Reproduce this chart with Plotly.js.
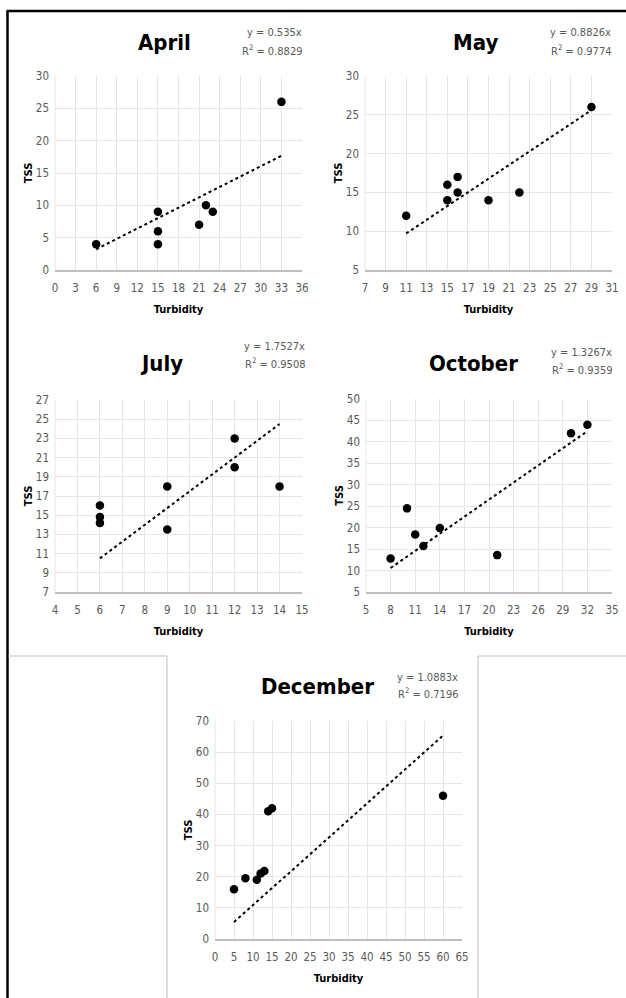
<!DOCTYPE html>
<html>
<head>
<meta charset="utf-8">
<script src="https://cdn.plot.ly/plotly-3.0.1.min.js"></script>
<style>html,body{margin:0;padding:0;background:#fff;}#chart{width:626px;height:998px;}</style>
</head>
<body>
<div id="chart"></div>
<script>
// ---- Data ----
const months = ["April", "May", "July", "October", "December"];

const aprilX = [6, 15, 15, 15, 21, 22, 23, 33];
const aprilY = [4, 9, 6, 4, 7, 10, 9, 26];
const mayX = [11, 15, 15, 16, 16, 19, 22, 29];
const mayY = [12, 16, 14, 17, 15, 14, 15, 26];
const julyX = [6, 6, 6, 9, 9, 12, 12, 14];
const julyY = [16, 14.8, 14.2, 18, 13.5, 23, 20, 18];
const octX = [8, 10, 11, 12, 14, 21, 30, 32];
const octY = [12.8, 24.5, 18.4, 15.7, 19.9, 13.6, 42, 44];
const decX = [5, 8, 11, 12, 13, 14, 15, 60];
const decY = [16, 19.5, 19, 21, 21.8, 41, 42, 46];

// trendline endpoints (as drawn)
const aprilTrendX = [6, 33];  const aprilTrendY = [3.21, 17.66];
const mayTrendX = [11, 29];   const mayTrendY = [9.71, 25.6];
const julyTrendX = [6, 14];   const julyTrendY = [10.5, 24.5];
const octTrendX = [8, 32];    const octTrendY = [10.6, 42.5];
const decTrendX = [5, 60];    const decTrendY = [5.44, 65.3];

const equations = ["y = 0.535x", "y = 0.8826x", "y = 1.7527x", "y = 1.3267x", "y = 1.0883x"];
const r2 = ["0.8829", "0.9774", "0.9508", "0.9359", "0.7196"];
const xTitle = "Turbidity";
const yTitle = "TSS";

// axis ranges & tick steps
const xRanges = [[0, 36], [7, 31], [4, 15], [5, 35], [0, 65]];
const xSteps = [3, 2, 1, 3, 5];
const yRanges = [[0, 30], [5, 30], [7, 27], [5, 50], [0, 70]];
const ySteps = [5, 5, 2, 5, 10];

const seriesX = [aprilX, mayX, julyX, octX, decX];
const seriesY = [aprilY, mayY, julyY, octY, decY];
const trendX = [aprilTrendX, mayTrendX, julyTrendX, octTrendX, decTrendX];
const trendY = [aprilTrendY, mayTrendY, julyTrendY, octTrendY, decTrendY];

// ---- Layout (pixel positions) ----
const W = 626, H = 998;
const boxes = [
  {l: 55, r: 302, t: 76, b: 270},
  {l: 365, r: 612, t: 76, b: 270},
  {l: 55, r: 302, t: 400, b: 592},
  {l: 366, r: 612, t: 399, b: 592},
  {l: 215, r: 462, t: 721, b: 939}
];
const titlePos = [[164, 43], [475, 43], [162, 363], [473, 363], [317, 686]];
const eqPos = [[304, 33, 50], [613, 33, 50], [307, 346, 363], [614, 352, 369], [460, 677, 693]];
const px = v => v / W;
const py = v => 1 - v / H;

const narrow = "DejaVu Sans Condensed, Liberation Sans Narrow, Liberation Sans, sans-serif";
const tickFont = {family: narrow, size: 11.5, color: "#595959"};
const axTitleFont = {family: narrow, size: 11, color: "#000", weight: "bold"};

const data = [];
const layout = {
  width: W, height: H,
  margin: {l: 0, r: 0, t: 0, b: 0},
  paper_bgcolor: "#fff", plot_bgcolor: "#fff",
  showlegend: false,
  annotations: [],
  shapes: []
};

for (let i = 0; i < 5; i++) {
  const n = i === 0 ? "" : String(i + 1);
  const xa = "x" + n, ya = "y" + n;
  const b = boxes[i];
  data.push({
    x: seriesX[i], y: seriesY[i], type: "scatter", mode: "markers",
    xaxis: xa, yaxis: ya,
    marker: {color: "#000", size: 8.5}, cliponaxis: false
  });
  data.push({
    x: trendX[i], y: trendY[i], type: "scatter", mode: "lines",
    xaxis: xa, yaxis: ya,
    line: {color: "#000", width: 2, dash: "dot"}
  });
  layout["xaxis" + n] = {
    domain: [px(b.l), px(b.r)], anchor: ya,
    range: xRanges[i], dtick: xSteps[i], tick0: xRanges[i][0],
    showgrid: true, gridcolor: "#e6e6e6", gridwidth: 1,
    zeroline: false, showline: true, linecolor: "#bfbfbf", linewidth: 1.5,
    ticks: "", tickfont: tickFont, ticklabelstandoff: 7,
    title: {text: xTitle, font: axTitleFont, standoff: 11},
    fixedrange: true
  };
  layout["yaxis" + n] = {
    domain: [py(b.b), py(b.t)], anchor: xa,
    range: yRanges[i], dtick: ySteps[i], tick0: yRanges[i][0],
    showgrid: true, gridcolor: "#e6e6e6", gridwidth: 1,
    zeroline: false, showline: false,
    ticks: "", tickfont: tickFont, ticklabelstandoff: 5,
    title: {text: yTitle, font: axTitleFont, standoff: 0},
    fixedrange: true
  };
  // left gridline edge
  layout.shapes.push({type: "line", xref: "paper", yref: "paper",
    x0: px(b.l), x1: px(b.l), y0: py(b.b), y1: py(b.t), line: {color: "#e6e6e6", width: 1}});
  // month title
  layout.annotations.push({
    text: months[i], xref: "paper", yref: "paper",
    x: px(titlePos[i][0]), y: py(titlePos[i][1]), xanchor: "center", yanchor: "middle",
    showarrow: false,
    font: {family: narrow, size: 22, color: "#000", weight: "bold"}
  });
  // equation lines
  layout.annotations.push({
    text: equations[i], xref: "paper", yref: "paper",
    x: px(eqPos[i][0]), y: py(eqPos[i][1]), xanchor: "right", yanchor: "middle",
    showarrow: false,
    font: {family: narrow, size: 11, color: "#595959"}
  });
  layout.annotations.push({
    text: "R<sup>2</sup> = " + r2[i], xref: "paper", yref: "paper",
    x: px(eqPos[i][0]), y: py(eqPos[i][2]), xanchor: "right", yanchor: "middle",
    showarrow: false,
    font: {family: narrow, size: 11, color: "#595959"}
  });
}

// frame lines
layout.shapes.push({type: "line", xref: "paper", yref: "paper",
  x0: px(6.5), x1: 1, y0: py(11), y1: py(11), line: {color: "#000", width: 2.5}});
layout.shapes.push({type: "line", xref: "paper", yref: "paper",
  x0: px(7.5), x1: px(7.5), y0: py(11), y1: 0, line: {color: "#000", width: 2.5}});
// gray boxes around the December area
layout.shapes.push({type: "line", xref: "paper", yref: "paper",
  x0: px(8.5), x1: px(167), y0: py(656), y1: py(656), line: {color: "#bfbfbf", width: 1}});
layout.shapes.push({type: "line", xref: "paper", yref: "paper",
  x0: px(167), x1: px(167), y0: py(656), y1: 0, line: {color: "#bfbfbf", width: 1}});
layout.shapes.push({type: "line", xref: "paper", yref: "paper",
  x0: px(478), x1: 1, y0: py(656), y1: py(656), line: {color: "#bfbfbf", width: 1}});
layout.shapes.push({type: "line", xref: "paper", yref: "paper",
  x0: px(478), x1: px(478), y0: py(656), y1: 0, line: {color: "#bfbfbf", width: 1}});

Plotly.newPlot("chart", data, layout, {staticPlot: true, displayModeBar: false});
</script>
</body>
</html>
